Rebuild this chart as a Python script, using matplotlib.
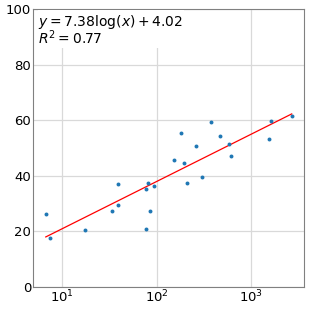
import numpy as np
import matplotlib
matplotlib.use("Agg")
import matplotlib.pyplot as plt

x_vals = [2675, 1604, 1539, 377, 180, 463, 262, 577, 606, 150, 194, 303, 207,
          39.2, 81.3, 76.9, 94.1, 38.8, 33.3, 85.3, 6.67, 17.5, 76.3, 7.36]
y_vals = [61.6, 59.8, 53.4, 59.3, 55.3, 54.4, 50.6, 51.6, 47.2, 45.8, 44.5, 39.4, 37.5,
          37.1, 37.5, 35.3, 36.5, 29.5, 27.4, 27.5, 26.1, 20.5, 20.8, 17.7]
slope = 7.38
intercept = 4.02
r2 = 0.77

x = np.array(x_vals)
y = np.array(y_vals)

fig = plt.figure(figsize=(3.09, 3.09), dpi=100)
ax = fig.add_axes([0.108, 0.071, 0.877, 0.90])

ax.scatter(x, y, s=8, color="#1f77b4", zorder=3, linewidths=0)
xl = np.array([x.min(), x.max()])
ax.plot(xl, slope * np.log(xl) + intercept, color="red", lw=0.9, zorder=2)

ax.set_xscale("log")
ax.set_xlim(4.93, 3640)
ax.set_ylim(0, 100)
ax.set_yticks([0, 20, 40, 60, 80, 100])
ax.grid(True, which="major", color="#d9d9d9", lw=0.9)
ax.set_axisbelow(True)
ax.minorticks_off()
for s in ax.spines.values():
    s.set_color("#808080")
ax.tick_params(colors="#808080", labelcolor="black", labelsize=9.5, length=0, pad=1.5)

ax.text(0.018, 0.985, f"$y = {slope}\\log(x) + {intercept}$\n$R^2 = {r2}$",
        transform=ax.transAxes, va="top", ha="left", fontsize=10,
        linespacing=0.85, bbox=dict(facecolor="white", edgecolor="none", pad=0.5))

fig.savefig("out.png", dpi=100)
